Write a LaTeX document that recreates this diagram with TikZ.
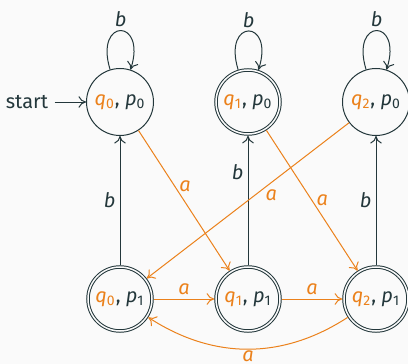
\documentclass[tikz,border=0pt]{standalone}
\usepackage{fontspec}
\setmainfont{Fira Sans}
\usetikzlibrary{arrows.meta}
\definecolor{fg}{HTML}{23373B}
\definecolor{orng}{HTML}{EB811B}
\definecolor{bgc}{HTML}{FAFAFA}
\newcommand\qsub[1]{\textcolor{orng}{\textit{q}\textsubscript{#1}}}
\newcommand\psub[1]{\textit{p}\textsubscript{#1}}
\newcommand\qp[2]{\qsub{#1}, \psub{#2}}
\begin{document}
\begin{tikzpicture}[x=0.5pt,y=-0.5pt,
  font=\fontsize{10}{12}\selectfont,
  st/.style={circle,draw=fg,line width=0.5pt,minimum size=33.5pt,inner sep=0pt,text=fg},
  acc/.style={st,double=bgc,double distance=0.75pt,minimum size=32pt,outer sep=0.9pt},
  tr/.style={-{To[length=3.8pt,width=5.8pt]},line width=0.5pt,draw=fg},
  ta/.style={tr,draw=orng},
  lb/.style={text=fg,inner sep=2pt,font=\fontsize{10}{12}\selectfont\itshape},
  la/.style={lb,text=orng}
]
\fill[bgc] (0,0) rectangle (408,364);
\useasboundingbox (0,0) rectangle (408,364);
\node[st]  (q0p0) at (120,102) {\qp{0}{0}};
\node[acc] (q1p0) at (248,102) {\qp{1}{0}};
\node[st]  (q2p0) at (376,102) {\qp{2}{0}};
\node[acc] (q0p1) at (120,299) {\qp{0}{1}};
\node[acc] (q1p1) at (248,299) {\qp{1}{1}};
\node[acc] (q2p1) at (376,299) {\qp{2}{1}};
\node[text=fg,inner sep=3pt] (start) at (27,102) {start};

\draw[tr] (start) -- (q0p0);
\foreach \n in {q0p0,q1p0,q2p0}
  \draw[tr] (\n) edge[out=107,in=72,looseness=6.8] node[lb,above,inner sep=1.5pt]{b} (\n);
\draw[tr] (q0p1) -- node[lb,left,pos=0.5]{b} (q0p0);
\draw[tr] (q1p1) -- node[lb,left,pos=0.72]{b} (q1p0);
\draw[tr] (q2p1) -- node[lb,left,pos=0.5]{b} (q2p0);
\draw[ta] (q0p0) -- node[la,right,pos=0.4]{a} (q1p1);
\draw[ta] (q1p0) -- node[la,right,pos=0.5]{a} (q2p1);
\draw[ta] (q2p0) -- node[la,below right,pos=0.42,inner sep=0.5pt]{a} (q0p1);
\draw[ta] (q0p1) -- node[la,above]{a} (q1p1);
\draw[ta] (q1p1) -- node[la,above]{a} (q2p1);
\draw[ta] (q2p1) to[bend left=33] node[la,below,inner sep=0.5pt]{a} (q0p1);
\end{tikzpicture}
\end{document}
